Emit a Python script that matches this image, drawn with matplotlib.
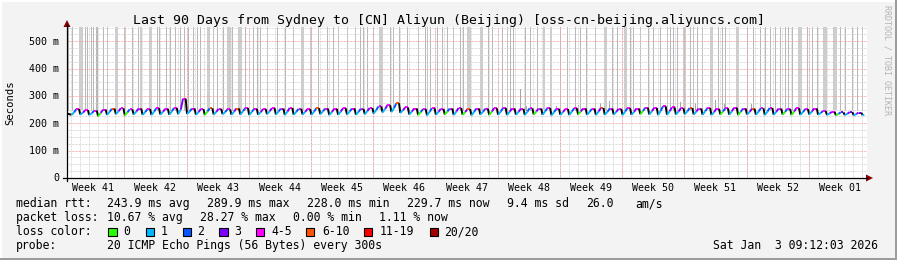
import numpy as np
import matplotlib.pyplot as plt
from matplotlib.collections import LineCollection
from matplotlib.patches import Rectangle, Polygon
from matplotlib.lines import Line2D
from matplotlib.transforms import blended_transform_factory

W, H = 897, 260

# median rtt per day (ms): low just after the nightly drop, midday value, peak before the drop
rtt_start = 236
rtt_low = [231, 232, 230, 226, 231, 233, 229, 232, 231, 230,
           232, 231, 233, 234, 231, 230, 232, 233, 231, 232,
           230, 231, 233, 232, 230, 231, 232, 231, 233, 230,
           231, 232, 231, 233, 236, 240, 241, 238, 232, 230,
           229, 231, 232, 230, 231, 229, 232, 230, 231, 230,
           231, 230, 232, 231, 229, 231, 230, 232, 231, 230,
           231, 232, 230, 231, 233, 232, 230, 231, 232, 233,
           232, 231, 230, 232, 231, 230, 232, 231, 230, 231,
           232, 230, 231, 232, 231, 230, 229, 230, 229, 230]
rtt_mid = [240, 239, 237, 238, 242, 244, 240, 243, 241, 243,
           242, 244, 250, 243, 241, 243, 242, 241, 243, 244,
           242, 241, 244, 243, 243, 242, 242, 243, 244, 241,
           243, 243, 242, 245, 249, 253, 256, 248, 243, 241,
           242, 242, 243, 243, 241, 242, 242, 243, 243, 242,
           242, 243, 243, 244, 241, 241, 243, 243, 242, 243,
           242, 242, 243, 242, 245, 244, 246, 244, 243, 244,
           243, 244, 241, 243, 244, 242, 242, 243, 243, 242,
           242, 243, 241, 243, 238, 236, 235, 235, 234, 230]
rtt_peak = [252, 248, 246, 250, 253, 255, 251, 254, 252, 255,
            253, 256, 290, 254, 252, 255, 253, 251, 254, 256,
            253, 252, 255, 254, 256, 253, 252, 255, 254, 253,
            255, 254, 253, 256, 262, 266, 273, 258, 254, 252,
            255, 253, 254, 256, 252, 254, 253, 255, 256, 254,
            253, 255, 254, 256, 253, 252, 255, 254, 253, 256,
            254, 253, 255, 254, 257, 256, 262, 258, 255, 256,
            254, 256, 253, 255, 257, 254, 253, 255, 256, 254,
            253, 255, 252, 254, 245, 242, 240, 241, 239, 231]

# loss class (index into loss_colors) at the low, mid and peak of each day
loss_low = ("1110110111" "1111101111" "1111111111" "1111111110" "1101011011"
            "1101111011" "1111011111" "1110101111" "0011110111")
loss_mid = ("2323232322" "3232323232" "2332323223" "3223232332" "2323322323"
            "3232232323" "2323232332" "3232323223" "2323232333")
loss_peak = ("4444544444" "4444454454" "4444444544" "4444445444" "4444544444"
             "4444444445" "4444444445" "4444445444" "4444443333")

loss_labels = ["0", "1", "2", "3", "4-5", "6-10", "11-19", "20/20"]
loss_colors = ["#26ff00", "#00b8ff", "#0059ff", "#7e00ff",
               "#ff00ff", "#ff5500", "#ff0000", "#a10000"]

# smoke bars that run off the top of the graph (day, duration in days)
smoke_day = [0.11, 0.56, 1.58, 2.02, 2.25, 2.70, 2.92, 3.26, 3.37, 4.05,
             4.50, 5.46, 6.52, 7.31, 7.99, 8.32, 9.34, 10.12, 10.35, 11.14,
             11.59, 12.15, 12.71, 13.16, 13.61, 14.17, 14.62, 14.96, 15.81, 16.42,
             16.87, 17.55, 18.22, 18.56, 19.41, 20.02, 20.92, 21.37, 21.71, 22.50,
             23.62, 24.52, 25.42, 26.44, 27.45, 28.24, 29.25, 29.92, 30.49, 31.50,
             32.40, 32.96, 33.30, 33.75, 34.42, 35.38, 36.34, 36.67, 37.35, 38.25,
             39.49, 40.27, 40.50, 40.84, 41.62, 42.19, 42.75, 43.42, 44.21, 44.55,
             45.28, 46.52, 47.36, 47.81, 48.94, 49.50, 49.84, 50.17, 51.52,
             52.09, 52.87, 53.66, 54.45, 55.46, 56.25, 57.15, 57.71, 58.39, 59.40,
             60.47, 61.31, 61.87, 62.72, 63.34, 63.67, 64.46, 65.36, 65.92, 66.71,
             67.50, 67.84, 68.17, 68.62, 69.36, 70.09, 70.42, 70.87, 71.43, 72.50,
             73.24, 73.69, 74.02, 75.32, 76.50, 77.17, 77.96, 78.52, 79.09, 79.65,
             80.21, 80.77, 81.11, 81.56, 82.46, 83.25, 83.81, 84.37, 85.27, 86.40,
             86.96, 87.52, 88.31, 88.87, 89.43]
smoke_len = [.11, .11, .45, .11, .11, .11, .11, .11, .11, .11,
             .11, .34, .22, .11, .11, .22, .34, .11, .11, .11,
             .11, .11, .11, .11, .11, .11, .11, .11, .34, .11,
             .11, .11, .45, .11, .45, .11, .11, .11, .11, .11,
             .11, .11, .11, .34, .22, .11, .11, .11, .11, .11,
             .11, .11, .11, .11, .11, .45, .11, .11, .11, .11,
             .11, .11, .11, .11, .11, .11, .11, .11, .11, .11,
             .45, .34, .11, .11, .11, .11, .11, .11, .11,
             .11, .11, .22, .22, .11, .11, .11, .11, .11, .11,
             .34, .11, .11, .34, .11, .11, .11, .11, .11, .11,
             .11, .11, .11, .11, .34, .11, .11, .11, .11, .34,
             .11, .11, .11, .34, .11, .11, .11, .11, .11, .11,
             .11, .11, .11, .11, .45, .11, .11, .11, .45, .45,
             .11, .11, .11, .11, .11]
smoke_base = 250
# shorter smoke spikes
short_day = [50.96, 51.6, 55.0, 57.5, 60.0, 61.0, 69.0, 70.6, 72.9, 73.9, 76.9]
short_top = [325, 265, 262, 268, 275, 280, 278, 275, 285, 275, 270]

y_ticks = [0, 100, 200, 300, 400, 500]
y_labels = ["0", "100 m", "200 m", "300 m", "400 m", "500 m"]
week_labels = ["Week 41", "Week 42", "Week 43", "Week 44", "Week 45", "Week 46", "Week 47",
               "Week 48", "Week 49", "Week 50", "Week 51", "Week 52", "Week 01"]
first_week_start = -0.55
first_day_start = 0.45

title = "Last 90 Days from Sydney to [CN] Aliyun (Beijing) [oss-cn-beijing.aliyuncs.com]"
stats_rtt = [("median rtt:", 16), ("243.9 ms avg", 107.3), ("289.9 ms max", 207.4),
             ("228.0 ms min", 307.2), ("229.7 ms now", 407), ("9.4 ms sd", 507.2),
             ("26.0", 586), ("am/s", 635)]
stats_loss = [("packet loss:", 16), ("10.67 % avg", 107.3), ("28.27 % max", 200.2),
              ("0.00 % min", 293.1), ("1.11 % now", 379.2)]
probe = "20 ICMP Echo Pings (56 Bytes) every 300s"
stamp = "Sat Jan  3 09:12:03 2026"

MONO = "DejaVu Sans Mono"
PX_PER_DAY = 800 / 90


def fx(px):
    return px / W


def fy(py):
    return 1 - py / H


fig = plt.figure(figsize=(W / 100, H / 100), dpi=100, facecolor="#f3f3f3")
ax = fig.add_axes([fx(67), fy(178), 800 / W, 151 / H])
ax.set_facecolor("white")
ax.set_xlim(0, 90)
ax.set_ylim(0, 552)
for s in ax.spines.values():
    s.set_visible(False)
ax.set_xticks([])
ax.set_yticks([])

# smoke
smoke_w = [max(1, round(l * PX_PER_DAY)) * 0.72 for l in smoke_len]
ax.vlines(smoke_day, smoke_base, 600, linewidths=smoke_w,
          colors=["#cdcdcd" if l > 0.2 else "#b8b8b8" for l in smoke_len],
          antialiased=False, zorder=1)
ax.vlines(short_day, smoke_base, short_top, linewidths=0.72, colors="#a4a4a4",
          antialiased=False, zorder=1)

# grid (rrdtool paints it over the smoke)
dash = dict(linestyle=(0, (0.72, 0.72)), linewidth=0.72)
for d in np.arange(first_day_start, 90, 1.0):
    ax.axvline(d, color="#d2d2d2", zorder=2, **dash)
for yv in np.arange(25, 552, 25):
    if yv % 100:
        ax.axhline(yv, color="#d2d2d2", zorder=2, **dash)
for yv in y_ticks[1:]:
    ax.axhline(yv, color="#f0a0a0", zorder=2.1, **dash)
week_starts = first_week_start + 7 * np.arange(1, len(week_labels))
for d in week_starts:
    ax.axvline(d, color="#f0a0a0", zorder=2.1, **dash)

# median line coloured by loss
t, v, cls = [0.0], [rtt_start], []
n = len(rtt_low)
for k in range(n):
    t.append(k + 0.5)
    v.append(rtt_low[k])
    cls.append(-1)
    if k < n - 1:
        t += [k + 0.8, k + 1.05, k + 1.35]
        v += [rtt_mid[k], rtt_peak[k], rtt_peak[k]]
        cls += [int(loss_low[k]), int(loss_mid[k]), int(loss_peak[k])]
    else:
        t.append(k + 0.7)
        v.append(rtt_peak[k])
        cls.append(int(loss_low[k]))
pts = np.column_stack([t, v])
segs = [pts[i:i + 2] for i in range(len(pts) - 1)]
cols = ["black" if c < 0 else loss_colors[c] for c in cls]
ax.add_collection(LineCollection(segs, colors=cols, linewidths=1.4, zorder=3, capstyle="butt"))

# axes with arrows
fig.add_artist(Line2D([fx(63), fx(867)], [fy(178), fy(178)], color="black", lw=0.9))
fig.add_artist(Line2D([fx(67), fx(67)], [fy(181), fy(25)], color="black", lw=0.9))
fig.add_artist(Polygon([(fx(866), fy(174.5)), (fx(873), fy(178)), (fx(866), fy(181.5))],
                       closed=True, color="#7f0000", lw=0))
fig.add_artist(Polygon([(fx(63.5), fy(27)), (fx(67), fy(20)), (fx(70.5), fy(27))],
                       closed=True, color="#7f0000", lw=0))

# tick labels
for yv, lab in zip(y_ticks, y_labels):
    py = 178 - yv * 151 / 552
    fig.text(fx(59), fy(py + 3.3), lab, ha="right", va="baseline", family=MONO, size=7.2)
xtr = blended_transform_factory(ax.transData, fig.transFigure)
for i, lab in enumerate(week_labels):
    ax.text(first_week_start + 3.5 + 7 * i, fy(190.7), lab, transform=xtr,
            ha="center", va="baseline", family=MONO, size=7.2)

fig.text(fx(10.5), fy(102.5), "Seconds", rotation=90, ha="center", va="center",
         family=MONO, size=7.6)
fig.text(fx(886.5), fy(60), "RRDTOOL / TOBI OETIKER", rotation=270, ha="center", va="center",
         family=MONO, size=6, color="#b4b4b4")
fig.text(0.5, fy(24), title, ha="center", va="baseline", family=MONO, size=9.5)

# legend block
for txt, px in stats_rtt:
    fig.text(fx(px), fy(207.3), txt, ha="left", va="baseline", family=MONO, size=8.3)
for txt, px in stats_loss:
    fig.text(fx(px), fy(221.3), txt, ha="left", va="baseline", family=MONO, size=8.3)
fig.text(fx(16), fy(235.3), "loss color:", ha="left", va="baseline", family=MONO, size=8.3)
box_x = [108.3, 145.7, 182.7, 219.3, 256, 306, 364, 430]
lab_x = [123, 160.7, 197, 234, 271, 322, 379.7, 444]
for col, lab, bx, lx in zip(loss_colors, loss_labels, box_x, lab_x):
    fig.add_artist(Rectangle((fx(bx), fy(236.3)), 8.3 / W, 8.3 / H, facecolor=col,
                             edgecolor="black", lw=0.8))
    fig.text(fx(lx), fy(235.3), lab, ha="left", va="baseline", family=MONO, size=8.3)
fig.text(fx(16), fy(249.3), "probe:", ha="left", va="baseline", family=MONO, size=8.3)
fig.text(fx(107.3), fy(249.3), probe, ha="left", va="baseline", family=MONO, size=8.3)
fig.text(fx(713.3), fy(249.3), stamp, ha="left", va="baseline", family=MONO, size=8.3)

# 3d frame of the rrdtool canvas
fig.add_artist(Rectangle((0, 0), 1, 2.5 / H, color="#9c9c9c", lw=0))
fig.add_artist(Rectangle((1 - 2.5 / W, 0), 2.5 / W, 1, color="#9c9c9c", lw=0))
fig.add_artist(Rectangle((0, 1 - 2 / H), 1 - 2.5 / W, 2 / H, color="#ffffff", lw=0))
fig.add_artist(Rectangle((0, 2.5 / H), 2 / W, 1, color="#ffffff", lw=0))

fig.savefig("out.png", dpi=100, facecolor=fig.get_facecolor())
